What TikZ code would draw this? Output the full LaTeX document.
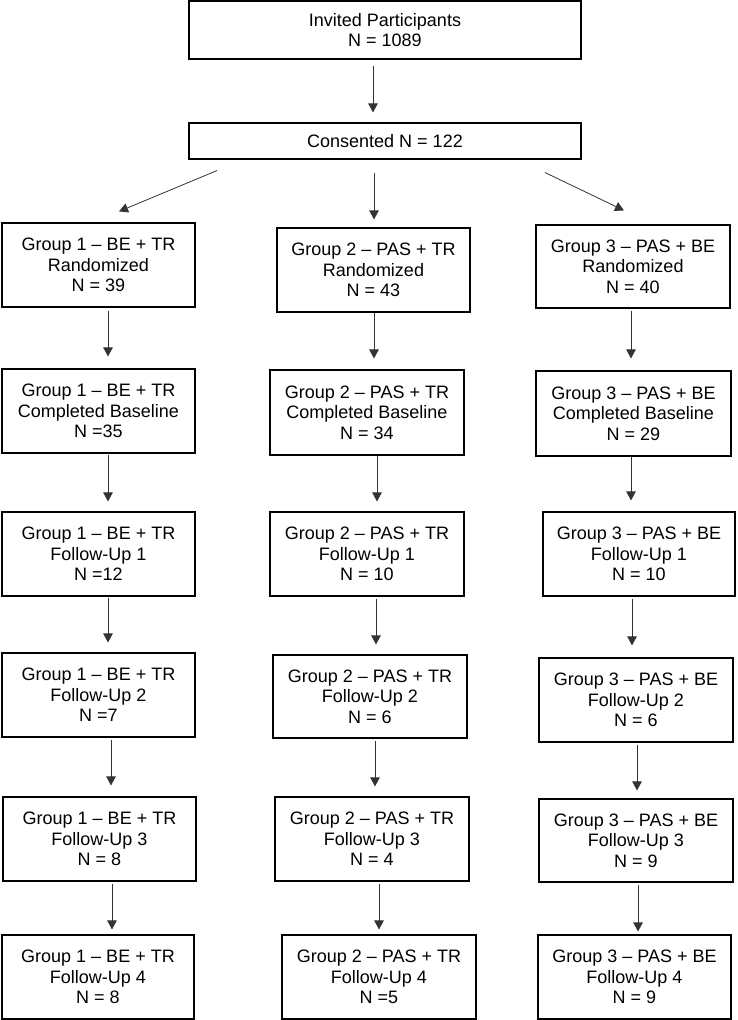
\documentclass[tikz,border=0pt]{standalone}
\usepackage{fontspec}
\setmainfont{Liberation Sans}
\usetikzlibrary{arrows.meta}
\tikzset{
  box/.style={draw=black, line width=1.1pt, inner sep=0pt, align=center,
    font=\fontsize{18}{20.7}\selectfont, minimum width=#1},
  box/.default=193pt,
  arr/.style={draw=black!80, line width=0.8pt, -{Triangle[width=9.5pt,length=9pt]}}
}
\newcommand\varr[5]{\draw[arr,shorten <=#4pt,shorten >=#5pt] (#1.south -| #3,0) -- (#2.north -| #3,0);}
\begin{document}
\begin{tikzpicture}[x=1pt,y=-1pt]
\useasboundingbox (0,0) rectangle (737,1020);
% top
\node[box=392pt, minimum height=58pt] (top) at (385,30) {Invited Participants\\N = 1089};
\node[box=392pt, minimum height=36pt] (cons) at (385,141) {Consented N = 122};
% group 1
\node[box, minimum height=84pt] (g1r) at (98.5,265) {Group 1 – BE + TR\\Randomized\\N = 39};
\node[box, minimum height=84pt] (g1b) at (98.5,411) {Group 1 – BE + TR\\Completed Baseline\\N =35};
\node[box, minimum height=84pt] (g1f1) at (98.5,554) {Group 1 – BE + TR\\Follow-Up 1\\N =12};
\node[box, minimum height=84pt] (g1f2) at (98.5,695) {Group 1 – BE + TR\\Follow-Up 2\\N =7};
\node[box, minimum height=84pt] (g1f3) at (99.5,839) {Group 1 – BE + TR\\Follow-Up 3\\N = 8};
\node[box=192pt, minimum height=84pt] (g1f4) at (98,977) {Group 1 – BE + TR\\Follow-Up 4\\N = 8};
% group 2
\node[box, minimum height=84pt] (g2r) at (373.5,270) {Group 2 – PAS + TR\\Randomized\\N = 43};
\node[box=194pt, minimum height=85pt] (g2b) at (367,412.5) {Group 2 – PAS + TR\\Completed Baseline\\N = 34};
\node[box=194pt, minimum height=84pt] (g2f1) at (367,554) {Group 2 – PAS + TR\\Follow-Up 1\\N = 10};
\node[box=194pt, minimum height=83pt] (g2f2) at (370,696.5) {Group 2 – PAS + TR\\Follow-Up 2\\N = 6};
\node[box=194pt, minimum height=84pt] (g2f3) at (372,839) {Group 2 – PAS + TR\\Follow-Up 3\\N = 4};
\node[box=194pt, minimum height=84pt] (g2f4) at (379,977) {Group 2 – PAS + TR\\Follow-Up 4\\N =5};
% group 3
\node[box=194pt, minimum height=83pt] (g3r) at (633,266.5) {Group 3 – PAS + BE\\Randomized\\N = 40};
\node[box=195pt, minimum height=85pt] (g3b) at (633.5,413.5) {Group 3 – PAS + BE\\Completed Baseline\\N = 29};
\node[box=192pt, minimum height=84pt] (g3f1) at (639,554) {Group 3 – PAS + BE\\Follow-Up 1\\N = 10};
\node[box=194pt, minimum height=84pt] (g3f2) at (636,700) {Group 3 – PAS + BE\\Follow-Up 2\\N = 6};
\node[box=194pt, minimum height=83pt] (g3f3) at (636,840.5) {Group 3 – PAS + BE\\Follow-Up 3\\N = 9};
\node[box, minimum height=84pt] (g3f4) at (634.5,977) {Group 3 – PAS + BE\\Follow-Up 4\\N = 9};
% arrows top
\varr{top}{cons}{373}{6}{10}
\varr{cons}{g2r}{374}{13}{8}
\draw[arr] ([shift={(-168,11)}]cons.south) -- ([shift={(20.5,-11)}]g1r.north);
\draw[arr] ([shift={(160,13)}]cons.south) -- ([shift={(-9,-14)}]g3r.north);
% group 1 arrows
\varr{g1r}{g1b}{108}{3}{12}
\varr{g1b}{g1f1}{108}{1}{10}
\varr{g1f1}{g1f2}{108}{1}{10}
\varr{g1f2}{g1f3}{111}{2}{11}
\varr{g1f3}{g1f4}{112}{2}{5}
% group 2 arrows
\varr{g2r}{g2b}{374}{0.5}{11}
\varr{g2b}{g2f1}{377}{0.5}{10}
\varr{g2f1}{g2f2}{376}{2}{10}
\varr{g2f2}{g2f3}{375}{2}{10}
\varr{g2f3}{g2f4}{379}{2}{5}
% group 3 arrows
\varr{g3r}{g3b}{631}{2}{12}
\varr{g3b}{g3f1}{631}{0.5}{11}
\varr{g3f1}{g3f2}{632}{2}{12}
\varr{g3f2}{g3f3}{637}{2}{8}
\varr{g3f3}{g3f4}{638}{2}{3}
\end{tikzpicture}
\end{document}
